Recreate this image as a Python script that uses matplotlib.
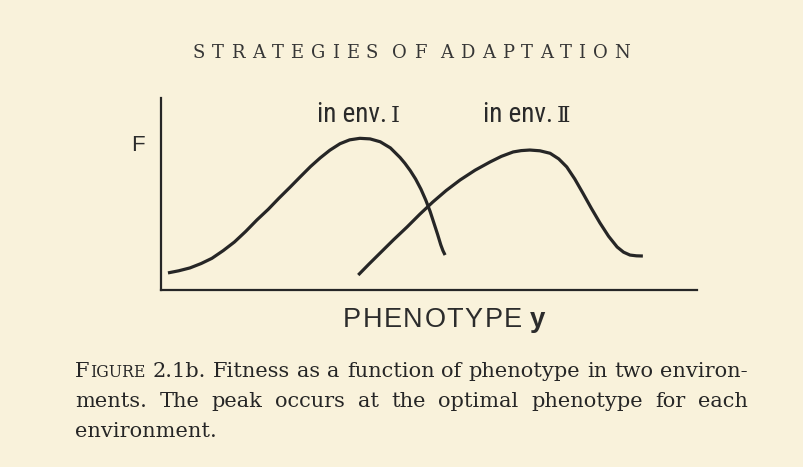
import matplotlib
matplotlib.use("Agg")
import matplotlib.pyplot as plt
from matplotlib import font_manager

# fitness curve in environment I
pheno_env1 = [0.13, 0.33, 0.54, 0.75, 0.95, 1.16, 1.37, 1.58, 1.79, 2.00, 2.20, 2.41, 2.60,
              2.79, 2.97, 3.15, 3.34, 3.52, 3.71, 3.90, 4.09, 4.28, 4.46, 4.55, 4.65,
              4.75, 4.85, 4.94, 5.02, 5.09, 5.16, 5.22, 5.26, 5.30]
fit_env1 = [0.089, 0.10, 0.115, 0.138, 0.165, 0.205, 0.25, 0.305, 0.365, 0.42, 0.478, 0.536, 0.59,
            0.643, 0.688, 0.728, 0.762, 0.782, 0.79, 0.787, 0.772, 0.74, 0.69, 0.66, 0.622,
            0.578, 0.525, 0.468, 0.41, 0.35, 0.29, 0.235, 0.205, 0.182]

# fitness curve in environment II
pheno_env2 = [3.68, 3.88, 4.09, 4.34, 4.59, 4.83, 5.07, 5.32, 5.58, 5.86, 6.14, 6.35, 6.57,
              6.72, 6.88, 7.07, 7.26, 7.42, 7.57, 7.72, 7.87, 8.03, 8.19, 8.35, 8.51,
              8.63, 8.75, 8.87, 8.99]
fit_env2 = [0.078, 0.135, 0.193, 0.262, 0.328, 0.395, 0.458, 0.518, 0.573, 0.624, 0.667, 0.696, 0.719,
            0.726, 0.729, 0.725, 0.712, 0.683, 0.641, 0.578, 0.505, 0.425, 0.349, 0.28, 0.224,
            0.197, 0.182, 0.178, 0.177]

header = "STRATEGIES OF ADAPTATION"
env_labels = ["in env.", "in env."]
env_numerals = ["\u2160", "\u2161"]
y_label = "F"
x_label = "PHENOTYPE"
x_symbol = "y"
caption = [
    "FIGURE 2.1b. Fitness as a function of phenotype in two environ-",
    "ments. The peak occurs at the optimal phenotype for each",
    "environment.",
]

W, H = 804, 467
PAPER = "#f9f2db"
INK = "#262626"
SERIF = ["DejaVu Serif", "DejaVu Sans"]
names = {f.name for f in font_manager.fontManager.ttflist}
SANS = "Liberation Sans"
NARROW = next((n for n in ["Liberation Sans Narrow", "DejaVu Sans Condensed",
                           "Roboto Condensed", "Open Sans Condensed"] if n in names), SANS)

fig = plt.figure(figsize=(W / 100, H / 100), dpi=100)
fig.patch.set_facecolor(PAPER)
renderer = fig.canvas.get_renderer()


def put(s, x, y, **kw):
    """place text by pixel position (from top left), return its width"""
    kw.setdefault("color", INK)
    t = fig.text(x / W, 1 - y / H, s, va="baseline", ha="left", **kw)
    return t.get_window_extent(renderer).width


def measure(s, **kw):
    t = fig.text(0, 0, s, **kw)
    w = t.get_window_extent(renderer).width
    t.remove()
    return w


def tracked(s, x0, x1, y, space=5, **kw):
    """spread the letters of s evenly from x0 to x1"""
    letters = [c for c in s if c != " "]
    widths = [measure(c, **kw) for c in letters]
    n_words = len(s.split())
    gaps = len(letters) - 1
    track = (x1 - x0 - sum(widths) - (n_words - 1) * space) / gaps
    x = x0
    i = 0
    for c in s:
        if c == " ":
            x += space
            continue
        put(c, x, y, **kw)
        x += widths[i] + track
        i += 1


def justify(pieces, x0, x1, y):
    """pieces: list of words, each a list of (text, fontsize) runs"""
    widths = [sum(measure(t, family=SERIF, fontsize=fs) for t, fs in word) + (len(word) - 1)
              for word in pieces]
    gap = (x1 - x0 - sum(widths)) / (len(pieces) - 1)
    x = x0
    for word, wd in zip(pieces, widths):
        xx = x
        for t, fs in word:
            xx += put(t, xx, y, family=SERIF, fontsize=fs) + 1
        x += wd + gap


# plot area
ax = fig.add_axes([161 / W, 1 - 290 / H, (697 - 161) / W, (290 - 98) / H])
ax.set_facecolor("none")
ax.plot(pheno_env1, fit_env1, color=INK, lw=2.3, solid_capstyle="butt", solid_joinstyle="round")
ax.plot(pheno_env2, fit_env2, color=INK, lw=2.3, solid_capstyle="butt", solid_joinstyle="round")
ax.set_xlim(0, 10)
ax.set_ylim(0, 1)
ax.set_xticks([])
ax.set_yticks([])
for side in ["top", "right"]:
    ax.spines[side].set_visible(False)
for side in ["left", "bottom"]:
    ax.spines[side].set_linewidth(1.6)
    ax.spines[side].set_color(INK)
    ax.spines[side].set_capstyle("projecting")

# running head
tracked(header, 193, 630, 58, space=7, family=SERIF, fontsize=13, color="#363636")

# curve labels
for label, num, x in zip(env_labels, env_numerals, [317, 483]):
    w = put(label, x, 122, family=NARROW, fontsize=19.5, color="#2a2a2a")
    put(num, x + w + 4, 122, family=SERIF, fontsize=16.5, color="#2a2a2a")

# axis titles
put(y_label, 131, 151, family=SANS, fontsize=16, color="#2c2c2c")
tracked(x_label, 343, 522, 327, family=SANS, fontsize=19.5, color="#2c2c2c")
put(x_symbol, 530, 327, family=SANS, fontsize=20, weight="bold", color="#2c2c2c")

# caption: size chosen so the first line fits the text block with ordinary spacing
LEFT, RIGHT = 75, 748
words1 = caption[0].split()
base = 12.0
natural = (measure("F", family=SERIF, fontsize=base) + measure("IGURE", family=SERIF, fontsize=base * 0.76)
           + measure(" ".join(words1[1:]), family=SERIF, fontsize=base) + measure(" ", family=SERIF, fontsize=base))
size = base * (RIGHT - LEFT) / natural * 0.985

line1 = [[("F", size), ("IGURE", size * 0.76)]] + [[(w, size)] for w in words1[1:]]
justify(line1, LEFT, RIGHT, 377)
justify([[(w, size)] for w in caption[1].split()], LEFT, RIGHT, 407)
put(caption[2], LEFT, 437, family=SERIF, fontsize=size)

fig.savefig("out.png", dpi=100, facecolor=PAPER)
